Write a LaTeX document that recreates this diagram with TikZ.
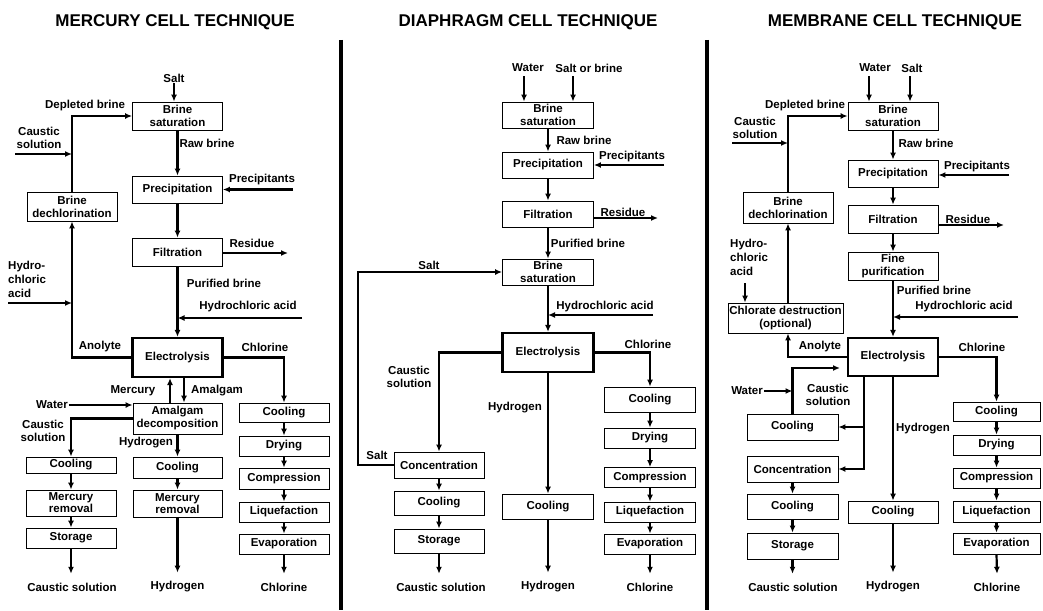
\documentclass[tikz,border=0pt]{standalone}
\usepackage{fontspec}
\setmainfont{Liberation Sans}
\usetikzlibrary{arrows.meta}
\begin{document}
\begin{tikzpicture}[x=1pt,y=-1pt,
  every node/.style={font=\fontsize{11.5}{13}\selectfont\bfseries, inner sep=1pt},
  box/.style={draw, line width=0.8pt, inner sep=0pt, align=center, minimum width=90pt},
  ebox/.style={box, line width=2.2pt},
  lbl/.style={align=center, inner sep=1pt},
  outl/.style={inner sep=0pt, outer ysep=9pt},
  arr/.style={line width=2.2pt, -{Latex[length=7pt,width=6pt]}},
  sep/.style={line width=3.5pt},
  title/.style={font=\fontsize{17}{20}\selectfont\bfseries}]
\useasboundingbox (0,0) rectangle (1043,610);
\fill[white] (0,0) rectangle (1043,610);

% titles and separators
\node[title] (t1) at (175,22) {MERCURY CELL TECHNIQUE};
\node[title] (t2) at (528,22) {DIAPHRAGM CELL TECHNIQUE};
\node[title] (t3) at (895,22) {MEMBRANE CELL TECHNIQUE};
\draw[sep] (341,40) -- (341,610);
\draw[sep] (707,40) -- (707,610);

% ================= MERCURY =================
\node[box,minimum height=28pt] (msat) at (177.5,116) {Brine\\saturation};
\node[box,minimum height=27pt] (mprec) at (177.5,189.5) {Precipitation};
\node[box,minimum height=28pt] (mfilt) at (177.5,252) {Filtration};
\node[box,minimum height=29pt] (mdech) at (72,206.5) {Brine\\dechlorination};
\node[ebox,minimum height=39pt] (melec) at (177.5,357.5) {Electrolysis};
\node[box,minimum width=89pt,minimum height=31pt] (mamal) at (177.5,418.5) {Amalgam\\decomposition};
\node[box,minimum height=19pt] (mcl1) at (284,412.5) {Cooling};
\node[box,minimum height=20pt] (mcl2) at (284,446) {Drying};
\node[box,minimum height=21pt] (mcl3) at (284,478.5) {Compression};
\node[box,minimum height=20pt] (mcl4) at (284,512) {Liquefaction};
\node[box,minimum height=20pt] (mcl5) at (284,544) {Evaporation};
\node[box,minimum height=16pt] (mca1) at (71,465) {Cooling};
\node[box,minimum height=26pt] (mca2) at (71,503) {Mercury\\[-1pt]removal};
\node[box,minimum height=20pt] (mca3) at (71,538) {Storage};
\node[box,minimum width=89pt,minimum height=21pt] (mh1) at (177.5,467.5) {Cooling};
\node[box,minimum width=89pt,minimum height=27pt] (mh2) at (177.5,503.5) {Mercury\\[-1pt]removal};

\node (msalt) at (174,78) {Salt};
\node (mdep) at (85,106) {Depleted brine};
\node[lbl] (mcs) at (39,138) {Caustic\\solution};
\coordinate (mcsin) at (15,154);
\node (mraw) at (207,143) {Raw brine};
\node (mpre) at (262,180) {Precipitants};
\coordinate (mprein) at (293,189.5);
\node (mres) at (252,243) {Residue};
\coordinate (mresout) at (288,253);
\node[lbl,anchor=west,align=left] (mhcl) at (7,279) {Hydro-\\[1pt]chloric\\[1pt]acid};
\coordinate (mhclin) at (8,303);
\node (mpur) at (224,283) {Purified brine};
\node (mhcl2) at (248,307) {Hydrochloric acid};
\coordinate (mhcl2in) at (302,318);
\node (mano) at (100,347) {Anolyte};
\node (mchl) at (265,347) {Chlorine};
\node (mmerc) at (133,391) {Mercury};
\node (mamg) at (217,391) {Amalgam};
\node (mwat) at (52,405) {Water};
\node[lbl] (mcs2) at (43,431) {Caustic\\solution};
\node (mhyd) at (146,443) {Hydrogen};
\node[outl] (mo1) at (72,587) {Caustic solution};
\node[outl] (mo2) at (177.5,587) {Hydrogen};
\node[outl] (mo3) at (284,587) {Chlorine};

\draw[arr] (msalt.south) -- (msalt.south |- msat.north);
\draw[arr] (mdech.north) |- (msat.west);
\draw[arr] (mcsin) -- (mcsin -| mdech.north);
\draw[arr] (msat) -- (mprec);
\draw[arr] (mprein) -- (mprec.east);
\draw[arr] (mprec) -- (mfilt);
\draw[arr] (mresout -| mfilt.east) -- (mresout);
\draw[arr] (mfilt) -- (melec);
\draw[arr] (mhcl2in) -- (mhcl2in -| melec.north);
\draw[arr] (mhclin) -- (mhclin -| mdech.south);
\draw[arr] (melec.west) -| (mdech.south);
\draw[arr] (melec.east) -| (mcl1.north);
\draw[arr] ([xshift=-7.5pt]mamal.north) -- ([xshift=-7.5pt]melec.south);
\draw[arr] ([xshift=6.5pt]melec.south) -- ([xshift=6.5pt]mamal.north);
\draw[arr] (mwat.east) -- (mwat.east -| mamal.west);
\draw[arr] (mamal.west) -| (mca1.north);
\draw[arr] (mamal) -- (mh1);
\draw[arr] (mh1) -- (mh2);
\draw[arr] (mh2.south) -- (mo2.north);
\draw[arr] (mca1) -- (mca2);
\draw[arr] (mca2) -- (mca3);
\draw[arr] (mca3.south) -- (mca3.south |- mo1.north);
\draw[arr] (mcl1) -- (mcl2);
\draw[arr] (mcl2) -- (mcl3);
\draw[arr] (mcl3) -- (mcl4);
\draw[arr] (mcl4) -- (mcl5);
\draw[arr] (mcl5.south) -- (mo3.north);

% ================= DIAPHRAGM =================
\node[box,minimum width=91pt,minimum height=26pt] (dsat) at (548,115) {Brine\\saturation};
\node[box,minimum width=91pt,minimum height=26pt] (dprec) at (548,165) {Precipitation};
\node[box,minimum width=91pt,minimum height=26pt] (dfilt) at (548,214) {Filtration};
\node[box,minimum width=91pt,minimum height=26pt] (dsat2) at (548,272) {Brine\\saturation};
\node[ebox,minimum width=91pt,minimum height=39pt] (delec) at (548,352.5) {Electrolysis};
\node[box,minimum width=91pt,minimum height=25pt] (dcl1) at (650,399.5) {Cooling};
\node[box,minimum width=91pt,minimum height=20pt] (dcl2) at (650,438) {Drying};
\node[box,minimum width=91pt,minimum height=20pt] (dcl3) at (650,477.5) {Compression};
\node[box,minimum width=91pt,minimum height=20pt] (dcl4) at (650,512) {Liquefaction};
\node[box,minimum width=91pt,minimum height=20pt] (dcl5) at (650,544) {Evaporation};
\node[box,minimum height=26pt] (dconc) at (439,465) {Concentration};
\node[box,minimum height=24pt] (dca1) at (439,503) {Cooling};
\node[box,minimum height=24pt] (dca2) at (439,541) {Storage};
\node[box,minimum width=91pt,minimum height=25pt] (dh1) at (548,506.5) {Cooling};

\node (dwat) at (528,68) {Water};
\coordinate (dwatin) at (524,76);
\node (dsob) at (589,68) {Salt or brine};
\coordinate (dsobin) at (573,76);
\node (drawb) at (584,140) {Raw brine};
\node (dpre) at (632,157) {Precipitants};
\coordinate (dprein) at (664,165);
\node (dres) at (623,212) {Residue};
\coordinate (dresout) at (658,218);
\node (dpur) at (588,243) {Purified brine};
\node (dsalt) at (429,265) {Salt};
\coordinate (dloop) at (358,272);
\node (dhcl) at (605,307) {Hydrochloric acid};
\coordinate (dhclin) at (653,315);
\node[lbl] (dcs) at (409,376.5) {Caustic\\solution};
\node (dhyd) at (515,408) {Hydrogen};
\node (dchl) at (648,344) {Chlorine};
\node (dsalt2) at (377,455) {Salt};
\node[outl] (do1) at (441,587) {Caustic solution};
\node[outl] (do2) at (548,587) {Hydrogen};
\node[outl] (do3) at (650,587) {Chlorine};

\draw[arr] (dwatin) -- (dwatin |- dsat.north);
\draw[arr] (dsobin) -- (dsobin |- dsat.north);
\draw[arr] (dsat) -- (dprec);
\draw[arr] (dprein) -- (dprec.east);
\draw[arr] (dprec) -- (dfilt);
\draw[arr] (dresout -| dfilt.east) -- (dresout);
\draw[arr] (dfilt) -- (dsat2);
\draw[arr] (dconc.west) -| (dloop) -- (dsat2.west);
\draw[arr] (dsat2) -- (delec);
\draw[arr] (dhclin) -- (dhclin -| delec.north);
\draw[arr] (delec.west) -| (dconc.north);
\draw[arr] (delec.east) -| (dcl1.north);
\draw[arr] (delec) -- (dh1);
\draw[arr] (dh1.south) -- (do2.north);
\draw[arr] (dconc) -- (dca1);
\draw[arr] (dca1) -- (dca2);
\draw[arr] (dca2.south) -- (dca2.south |- do1.north);
\draw[arr] (dcl1) -- (dcl2);
\draw[arr] (dcl2) -- (dcl3);
\draw[arr] (dcl3) -- (dcl4);
\draw[arr] (dcl4) -- (dcl5);
\draw[arr] (dcl5.south) -- (do3.north);

% ================= MEMBRANE =================
\node[box,minimum height=28pt] (bsat) at (893,116) {Brine\\saturation};
\node[box,minimum height=27pt] (bprec) at (893,173.5) {Precipitation};
\node[box,minimum height=28pt] (bfilt) at (893,219) {Filtration};
\node[box,minimum height=28pt] (bfine) at (893,266) {Fine\\purification};
\node[ebox,minimum height=38pt] (belec) at (893,357) {Electrolysis};
\node[box,minimum height=31pt] (bdech) at (788,207.5) {Brine\\dechlorination};
\node[box,minimum width=115pt,minimum height=30pt] (bchlor) at (785.5,318) {Chlorate destruction\\(optional)};
\node[box,minimum width=87pt,minimum height=19pt] (bcl1) at (996.5,411.5) {Cooling};
\node[box,minimum width=87pt,minimum height=20pt] (bcl2) at (996.5,445) {Drying};
\node[box,minimum width=87pt,minimum height=20pt] (bcl3) at (996.5,478) {Compression};
\node[box,minimum width=87pt,minimum height=21pt] (bcl4) at (996.5,511.5) {Liquefaction};
\node[box,minimum width=87pt,minimum height=21pt] (bcl5) at (996.5,543.5) {Evaporation};
\node[box,minimum width=91pt,minimum height=26pt] (bca1) at (792.5,427) {Cooling};
\node[box,minimum width=91pt,minimum height=26pt] (bconc) at (792.5,469) {Concentration};
\node[box,minimum width=91pt,minimum height=25pt] (bca2) at (792.5,506.5) {Cooling};
\node[box,minimum width=91pt,minimum height=26pt] (bstor) at (792.5,546) {Storage};
\node[box,minimum height=22pt] (bh1) at (893,512) {Cooling};

\node (bwat) at (875,68) {Water};
\coordinate (bwatin) at (869,76);
\node (bsalt) at (912,68) {Salt};
\coordinate (bsaltin) at (910,76);
\node (bdep) at (805,106) {Depleted brine};
\node[lbl] (bcs) at (755,127.5) {Caustic\\solution};
\coordinate (bcsin) at (732,143);
\node (braw) at (926,143) {Raw brine};
\node (bpre) at (977,167) {Precipitants};
\coordinate (bprein) at (1009,175);
\node (bres) at (968,219) {Residue};
\coordinate (bresout) at (1004,225);
\node[lbl,anchor=west,align=left] (bhcl) at (729,257.5) {Hydro-\\[1pt]chloric\\[1pt]acid};
\coordinate (bhclin) at (745,283);
\node (bpur) at (934,290) {Purified brine};
\node (bhcl2) at (964,307) {Hydrochloric acid};
\coordinate (bhcl2in) at (1018,317);
\node (bano) at (820,347) {Anolyte};
\node (bchl) at (982,347) {Chlorine};
\node (bwat2) at (747,391) {Water};
\node[lbl] (bcs2) at (828,395) {Caustic\\solution};
\coordinate (bret) at (840,368);
\coordinate (bcsbr) at ([xshift=-29pt]belec.south);
\node (bhyd) at (923,429) {Hydrogen};
\node[outl] (bo1) at (793,587) {Caustic solution};
\node[outl] (bo2) at (893,587) {Hydrogen};
\node[outl] (bo3) at (997,587) {Chlorine};

\draw[arr] (bwatin) -- (bwatin |- bsat.north);
\draw[arr] (bsaltin) -- (bsaltin |- bsat.north);
\draw[arr] (bdech.north) |- (bsat.west);
\draw[arr] (bcsin) -- (bcsin -| bdech.north);
\draw[arr] (bsat) -- (bprec);
\draw[arr] (bprein) -- (bprein -| bprec.east);
\draw[arr] (bprec) -- (bfilt);
\draw[arr] (bresout -| bfilt.east) -- (bresout);
\draw[arr] (bfilt) -- (bfine);
\draw[arr] (bfine) -- (belec);
\draw[arr] (bhcl2in) -- (bhcl2in -| belec.north);
\draw[arr] (bhclin) -- (bhclin |- bchlor.north);
\draw[arr] (bchlor.north -| bdech.south) -- (bdech.south);
\draw[arr] (belec.west) -| (bchlor.south -| bdech.south);
\draw[arr] (belec.east) -| (bcl1.north);
\draw[arr] (bcsbr) |- (bconc.east);
\draw[arr] (bcsbr |- bca1.east) -- (bca1.east);
\draw[arr] (bca1.north) |- (bret);
\draw[arr] (bwat2.east) -- (bwat2.east -| bca1.north);
\draw[arr] (belec) -- (bh1);
\draw[arr] (bh1.south) -- (bo2.north);
\draw[arr] (bconc) -- (bca2);
\draw[arr] (bca2) -- (bstor);
\draw[arr] (bstor.south) -- (bstor.south |- bo1.north);
\draw[arr] (bcl1) -- (bcl2);
\draw[arr] (bcl2) -- (bcl3);
\draw[arr] (bcl3) -- (bcl4);
\draw[arr] (bcl4) -- (bcl5);
\draw[arr] (bcl5.south) -- (bo3.north);
\end{tikzpicture}
\end{document}
